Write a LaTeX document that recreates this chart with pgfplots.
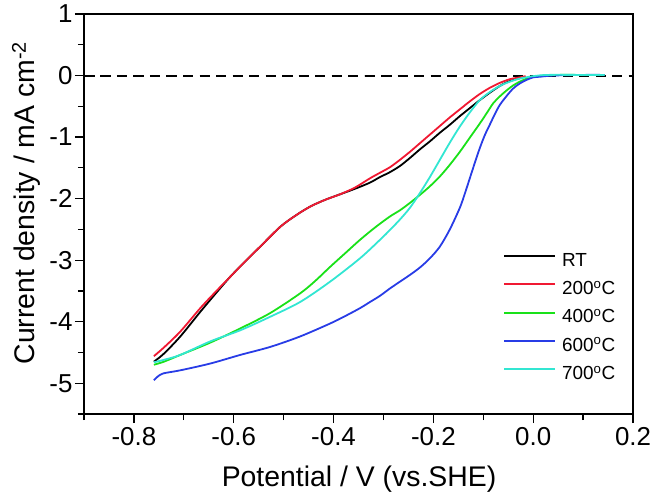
\documentclass[border=0pt]{standalone}
\usepackage{fontspec}
\setmainfont{Liberation Sans}
\usepackage{pgfplots}
\pgfplotsset{compat=1.18}
\definecolor{cred}{RGB}{240,25,50}
\definecolor{cgreen}{RGB}{25,225,25}
\definecolor{cblue}{RGB}{40,60,230}
\definecolor{ccyan}{RGB}{50,230,210}
\begin{document}
\begin{tikzpicture}
\begin{axis}[
  at={(0,0)}, anchor=south west,
  scale only axis, width=549bp, height=400bp,
  xmin=-0.9, xmax=0.2, ymin=-5.5, ymax=1,
  axis line style={line width=1.3bp},
  xtick={-0.8,-0.6,-0.4,-0.2,0,0.2},
  xticklabels={-0.8,-0.6,-0.4,-0.2,0.0,0.2},
  minor xtick={-0.9,-0.7,-0.5,-0.3,-0.1,0.1},
  ytick={-5,-4,-3,-2,-1,0,1},
  yticklabels={-5,-4,-3,-2,-1,0,1},
  minor ytick={-5.5,-4.5,-3.5,-2.5,-1.5,-0.5,0.5},
  xtick pos=left, ytick pos=left,
  tick align=outside,
  major tick length=9bp, minor tick length=6bp,
  every tick/.style={line width=1.3bp, black},
  /pgf/number format/assume math mode=true,
  xticklabel style={font=\fontsize{26}{30}\selectfont, yshift=-1bp},
  yticklabel style={font=\fontsize{26}{30}\selectfont, xshift=1bp},
  xlabel={Potential / V (vs.SHE)},
  ylabel={Current density / mA cm\textsuperscript{-2}},
  label style={font=\fontsize{28.5}{32}\selectfont},
  xlabel style={at={(axis description cs:0.501,-0.182)}, anchor=base, inner sep=0pt},
  ylabel style={at={(axis description cs:-0.0893,0.5275)}, anchor=base, rotate=0, inner sep=0pt},
  legend style={draw=none, fill=none, at={(axis description cs:0.7632,0.405)}, anchor=north west,
    font=\fontsize{19}{22}\selectfont, inner sep=0pt, row sep=10.3bp,
    nodes={inner sep=0pt, text height=14bp, text depth=4bp}},
  legend cell align=left,
  legend image code/.code={\draw[#1, line width=2bp] (0bp,5bp) -- (51bp,5bp); \path (57bp,5bp);},
  every axis plot/.append style={line width=1.8bp, smooth},
]
\addplot[black, dash pattern=on 10bp off 6.5bp, line width=2bp, forget plot] coordinates {(-0.9,0) (0.2,0)};
% RT
\addplot[black] coordinates {
(-0.760,-4.65) (-0.740,-4.52) (-0.707,-4.24) (-0.667,-3.84) (-0.637,-3.55) (-0.607,-3.27)
(-0.577,-3.02) (-0.547,-2.78) (-0.507,-2.46) (-0.477,-2.28) (-0.447,-2.13) (-0.417,-2.02)
(-0.387,-1.93) (-0.357,-1.84) (-0.327,-1.74) (-0.307,-1.65) (-0.287,-1.57) (-0.267,-1.47)
(-0.247,-1.34) (-0.227,-1.20) (-0.207,-1.07) (-0.187,-0.93) (-0.167,-0.80) (-0.147,-0.66)
(-0.127,-0.53) (-0.107,-0.40) (-0.087,-0.28) (-0.067,-0.17) (-0.050,-0.10) (-0.030,-0.05) (-0.020,-0.03)
};
\addlegendentry{RT}
% 200C
\addplot[cred] coordinates {
(-0.760,-4.56) (-0.740,-4.42) (-0.707,-4.16) (-0.667,-3.78) (-0.637,-3.52) (-0.607,-3.27)
(-0.577,-3.02) (-0.547,-2.78) (-0.507,-2.46) (-0.477,-2.28) (-0.447,-2.13) (-0.417,-2.02)
(-0.387,-1.93) (-0.357,-1.82) (-0.327,-1.67) (-0.307,-1.58) (-0.287,-1.49) (-0.267,-1.37)
(-0.247,-1.24) (-0.227,-1.10) (-0.207,-0.96) (-0.187,-0.82) (-0.167,-0.68) (-0.147,-0.55)
(-0.127,-0.42) (-0.107,-0.30) (-0.087,-0.20) (-0.067,-0.12) (-0.047,-0.06) (-0.027,-0.03) (-0.015,-0.01)
};
\addlegendentry{200\textsuperscript{o}C}
% 400C
\addplot[cgreen] coordinates {
(-0.760,-4.70) (-0.740,-4.65) (-0.707,-4.54) (-0.647,-4.34) (-0.587,-4.11) (-0.527,-3.86)
(-0.467,-3.54) (-0.437,-3.34) (-0.407,-3.11) (-0.377,-2.89) (-0.347,-2.67) (-0.317,-2.47)
(-0.287,-2.29) (-0.267,-2.19) (-0.247,-2.07) (-0.227,-1.94) (-0.207,-1.80) (-0.187,-1.64)
(-0.167,-1.45) (-0.147,-1.24) (-0.127,-1.01) (-0.107,-0.78) (-0.093,-0.61) (-0.080,-0.45)
(-0.067,-0.34) (-0.053,-0.24) (-0.040,-0.16) (-0.027,-0.10) (-0.013,-0.05) (0.000,-0.02)
(0.020,0.00) (0.050,0.01) (0.100,0.01) (0.143,0.01)
};
\addlegendentry{400\textsuperscript{o}C}
% 600C
\addplot[cblue] coordinates {
(-0.760,-4.95) (-0.752,-4.89) (-0.741,-4.84) (-0.707,-4.79) (-0.647,-4.68) (-0.587,-4.54)
(-0.527,-4.41) (-0.467,-4.24) (-0.407,-4.03) (-0.377,-3.91) (-0.347,-3.78) (-0.327,-3.68)
(-0.307,-3.58) (-0.287,-3.46) (-0.267,-3.35) (-0.247,-3.24) (-0.227,-3.12) (-0.207,-2.97)
(-0.187,-2.78) (-0.167,-2.50) (-0.147,-2.15)
(-0.137,-1.92) (-0.127,-1.67) (-0.117,-1.42) (-0.107,-1.18) (-0.097,-0.97) (-0.087,-0.80)
(-0.077,-0.63) (-0.067,-0.48) (-0.053,-0.33) (-0.040,-0.21) (-0.027,-0.13) (-0.013,-0.07)
(0.000,-0.03) (0.013,-0.02) (0.040,0.00) (0.100,0.01) (0.143,0.01)
};
\addlegendentry{600\textsuperscript{o}C}
% 700C
\addplot[ccyan] coordinates {
(-0.760,-4.66) (-0.740,-4.62) (-0.707,-4.54) (-0.647,-4.32) (-0.587,-4.14) (-0.527,-3.92)
(-0.467,-3.68) (-0.407,-3.35) (-0.347,-2.97) (-0.307,-2.67) (-0.287,-2.51) (-0.267,-2.34)
(-0.247,-2.15) (-0.227,-1.91) (-0.207,-1.65) (-0.187,-1.37) (-0.167,-1.09) (-0.147,-0.83)
(-0.127,-0.60) (-0.107,-0.40) (-0.087,-0.27) (-0.067,-0.17) (-0.047,-0.10) (-0.027,-0.05)
(0.000,-0.01) (0.030,0.01) (0.100,0.01) (0.143,0.01)
};
\addlegendentry{700\textsuperscript{o}C}
\end{axis}
\pgfresetboundingbox
\path[use as bounding box] (-84bp,-82bp) rectangle (570bp,414bp);
\end{tikzpicture}
\end{document}
